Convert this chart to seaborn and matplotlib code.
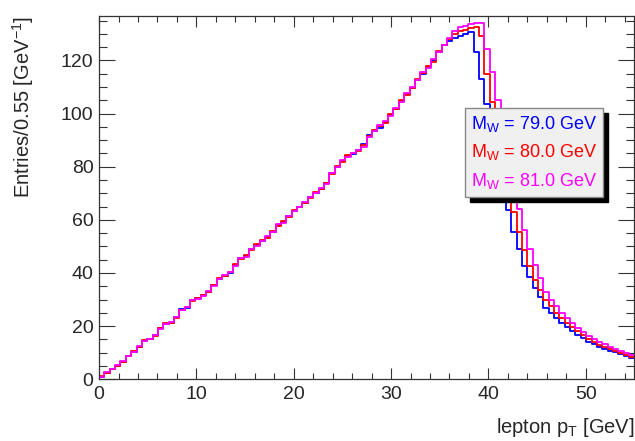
import numpy as np
import pandas as pd
import matplotlib
matplotlib.use("Agg")
import matplotlib.pyplot as plt
from matplotlib.ticker import MultipleLocator
import seaborn as sns

# lepton pT histograms, 100 bins of 0.55 GeV from 0 to 55
bin_width = 0.55
n_bins = 100

mw_labels = ["79.0", "80.0", "81.0"]
colors = ["#0000ff", "#ff0000", "#ff00ff"]

counts_79 = [
    1.0, 2.5, 3.8, 5.0, 6.6, 8.8, 10.4, 12.3, 14.5, 15.0,
    16.6, 19.2, 20.8, 21.0, 23.3, 26.3, 27.0, 29.8, 30.4, 31.7,
    32.9, 35.4, 37.8, 39.0, 40.1, 43.0, 45.5, 46.4, 48.9, 50.5,
    52.1, 53.6, 55.5, 58.0, 59.3, 61.4, 63.4, 64.7, 66.5, 68.7,
    70.2, 71.8, 73.7, 77.5, 80.0, 82.1, 83.9, 84.7, 86.2, 88.6,
    91.8, 93.4, 94.6, 96.8, 99.4, 101.9, 104.9, 107.3, 109.8, 112.8,
    115.0, 117.4, 120.0, 123.2, 125.7, 127.3, 128.5, 129.3, 130.0, 130.8,
    123.0, 113.2, 103.8, 94.0, 84.0, 73.5, 63.6, 55.3, 48.9, 42.6,
    38.6, 34.2, 31.0, 27.0, 25.0, 23.0, 21.3, 19.6, 18.2, 16.8,
    15.4, 14.2, 13.2, 12.3, 11.5, 10.8, 10.1, 9.4, 8.7, 8.0,
]

counts_80 = [
    1.1, 2.4, 3.9, 5.1, 6.5, 8.7, 10.5, 12.2, 14.6, 15.1,
    16.4, 19.3, 21.2, 21.3, 23.1, 26.1, 27.3, 29.6, 30.6, 31.9,
    32.7, 35.6, 38.2, 38.8, 40.4, 43.3, 45.2, 46.8, 48.6, 50.8,
    52.4, 53.3, 55.9, 57.7, 59.6, 61.1, 63.6, 65.0, 66.2, 68.4,
    70.5, 71.5, 74.0, 77.2, 80.3, 81.8, 84.3, 85.1, 86.0, 88.2,
    91.5, 94.0, 95.3, 96.5, 99.8, 101.6, 105.3, 107.0, 109.5, 113.2,
    115.3, 117.9, 119.6, 123.6, 126.0, 128.0, 130.0, 131.0, 131.5, 132.2,
    132.6, 129.2, 115.0, 104.4, 94.0, 83.0, 73.0, 63.0, 55.3, 48.5,
    42.5, 37.5, 33.5, 30.0, 27.5, 25.0, 23.0, 21.2, 19.5, 18.0,
    16.5, 15.0, 14.0, 13.0, 12.2, 11.4, 10.7, 10.0, 9.2, 8.5,
]

counts_81 = [
    0.9, 2.6, 3.7, 5.2, 6.7, 8.6, 10.3, 12.5, 14.4, 15.3,
    16.8, 19.0, 20.9, 21.4, 23.5, 26.0, 27.1, 29.9, 30.2, 31.5,
    33.2, 35.2, 37.6, 39.3, 40.3, 42.8, 45.8, 46.2, 49.2, 50.3,
    51.9, 53.8, 55.3, 58.3, 59.0, 61.6, 63.2, 64.9, 66.8, 68.5,
    70.0, 72.1, 73.5, 77.7, 79.8, 82.4, 83.6, 85.0, 86.4, 87.6,
    91.2, 93.5, 95.6, 97.1, 99.1, 102.2, 104.5, 107.6, 110.1, 112.5,
    115.6, 117.2, 120.4, 123.0, 126.0, 128.5, 131.0, 132.5, 132.8, 133.8,
    134.2, 134.0, 124.4, 115.6, 105.3, 95.0, 84.0, 73.5, 64.0, 56.0,
    49.0, 43.0, 38.0, 33.0, 30.0, 27.5, 25.0, 23.0, 21.0, 19.3,
    17.8, 16.2, 15.0, 14.0, 13.2, 12.3, 11.5, 10.8, 10.0, 9.2,
]

centers = (np.arange(n_bins) + 0.5) * bin_width
x_max = n_bins * bin_width

sns.set_style("ticks")
plt.rcParams["font.family"] = ["Liberation Sans", "DejaVu Sans"]
plt.rcParams["mathtext.default"] = "regular"

fig = plt.figure(figsize=(6.35, 4.41), dpi=100)
ax = fig.add_axes([0.156, 0.14, 0.843, 0.8235])

for counts, color in zip([counts_79, counts_80, counts_81], colors):
    df = pd.DataFrame({"pt": centers, "n": counts})
    sns.histplot(data=df, x="pt", weights="n", bins=n_bins,
                 binrange=(0, x_max), element="step",
                 fill=False, color=color, linewidth=1.3, ax=ax)

ax.set_xlim(0, 55)
ax.set_ylim(0, 136.7)

ax.xaxis.set_major_locator(MultipleLocator(10))
ax.xaxis.set_minor_locator(MultipleLocator(2))
ax.yaxis.set_major_locator(MultipleLocator(20))
ax.yaxis.set_minor_locator(MultipleLocator(5))
ax.tick_params(which="both", direction="in", top=True, right=True,
               labelsize=14, width=0.8, color="#333333")
ax.tick_params(axis="x", which="major", length=8, pad=5)
ax.tick_params(axis="x", which="minor", length=4)
ax.tick_params(axis="y", which="major", length=11.5, pad=4)
ax.tick_params(axis="y", which="minor", length=5.8)
for sp in ax.spines.values():
    sp.set_color("#333333")
    sp.set_linewidth(0.9)

ax.set_xlabel("lepton p$_{T}$ [GeV]", fontsize=14.5, loc="right")
ax.set_ylabel("Entries/0.55 [GeV$^{-1}$]", fontsize=14.5, loc="top")
ax.xaxis.set_label_coords(1.0, -0.1)
ax.yaxis.set_label_coords(-0.117, 1.0)

labels = ["M$_{W}$ = " + m + " GeV" for m in mw_labels]
leg = ax.legend(ax.lines[:3], labels, loc="upper left",
                bbox_to_anchor=(0.683, 0.747), fontsize=13,
                handlelength=0, handletextpad=0, labelcolor=colors,
                frameon=True, fancybox=False, borderpad=0.35,
                labelspacing=0.45, borderaxespad=0,
                shadow={"ox": 3.5, "oy": -3.5, "facecolor": "black",
                        "edgecolor": "black", "alpha": 1})
leg.get_frame().set_facecolor("#f0f0f0")
leg.get_frame().set_edgecolor("#888888")
leg.get_frame().set_linewidth(1.0)
leg.get_frame().set_alpha(1)
for h in leg.legend_handles:
    h.set_visible(False)

fig.savefig("out.png", dpi=100)
